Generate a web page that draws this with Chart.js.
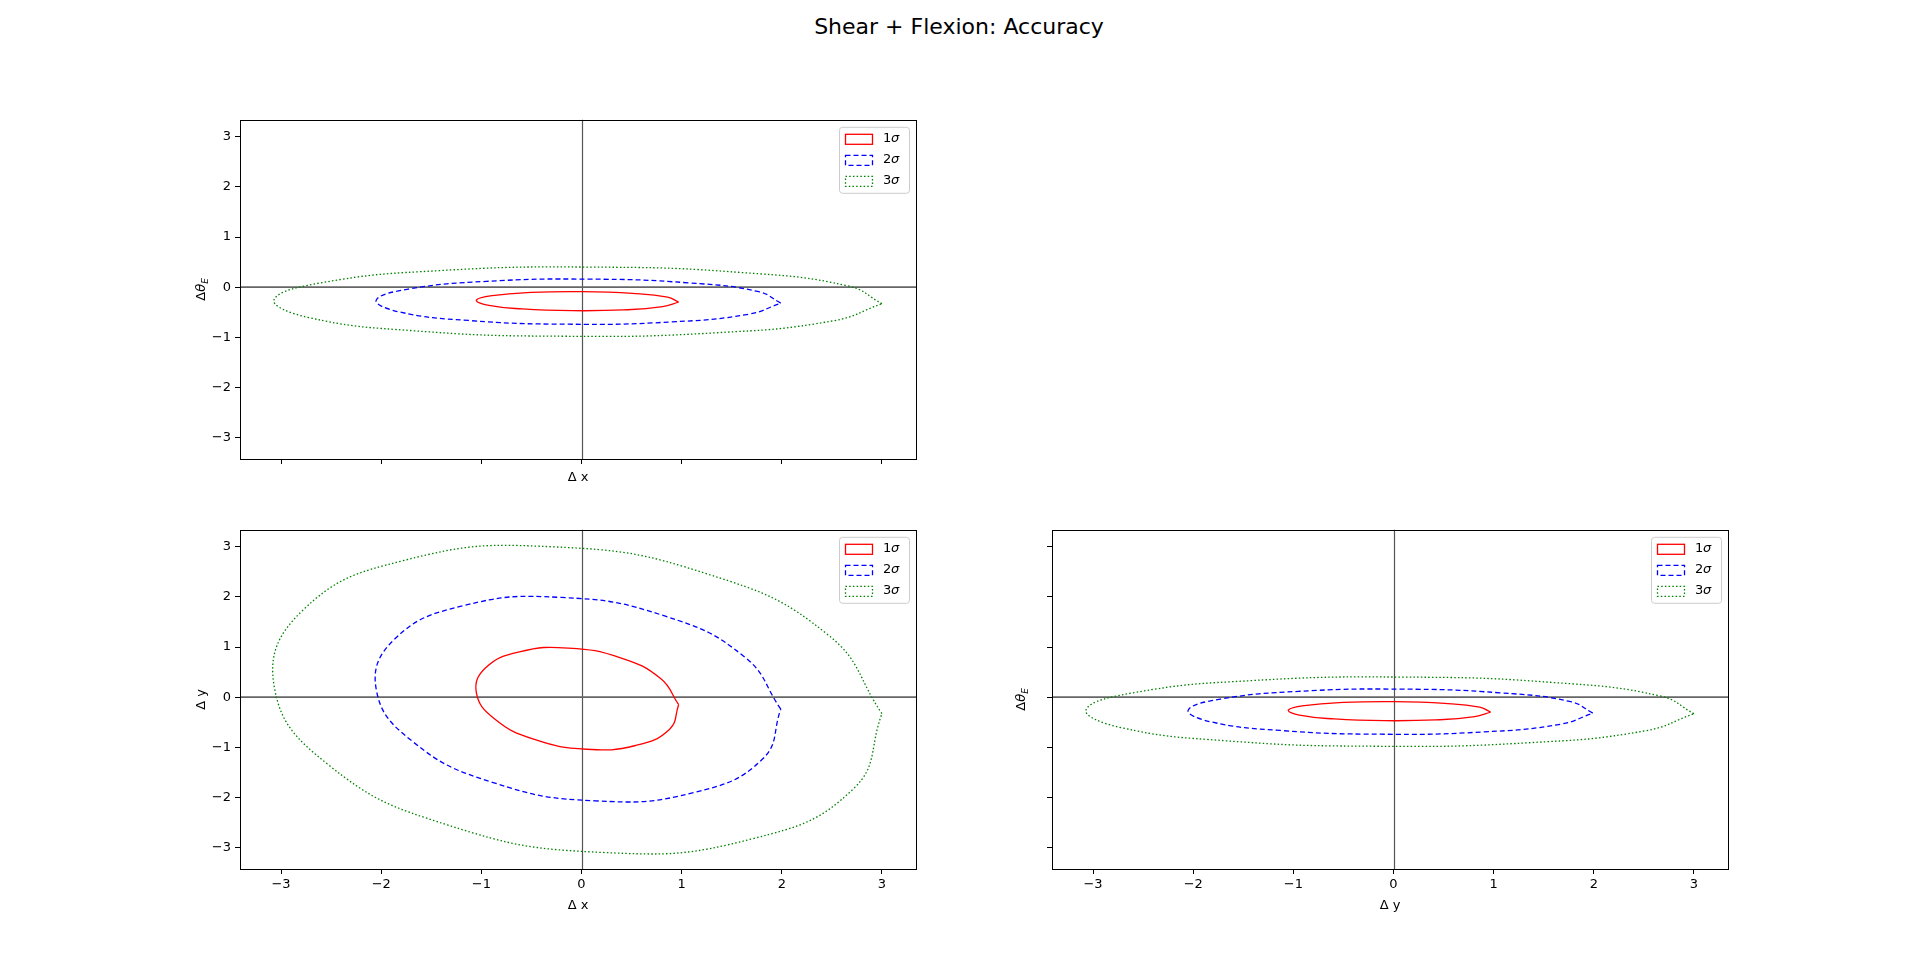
<!DOCTYPE html>
<html><head><meta charset="utf-8">
<script src="https://cdn.jsdelivr.net/npm/chart.js@4"></script>
<style>
body{margin:0;width:1920px;height:975px;background:#fff;position:relative;overflow:hidden;font-family:"DejaVu Sans",sans-serif}
#title{position:absolute;top:14px;left:0;width:1918px;text-align:center;font-size:22px}
.c{position:absolute}
</style></head><body>
<div id="title">Shear + Flexion: Accuracy</div>
<div class="c" style="left:180px;top:107.5px;width:746px;height:401px"><canvas id="c1"></canvas></div>
<div class="c" style="left:180px;top:518px;width:746px;height:401px"><canvas id="c2"></canvas></div>
<div class="c" style="left:992px;top:518px;width:746px;height:401px"><canvas id="c3"></canvas></div>
<script>
// Δx / Δy vs ΔθE contours [x, y]
const thetaSig1 = [[0.97,-0.30],[0.86,-0.20],[0.51,-0.125],[0.01,-0.09],[-0.50,-0.105],[-0.89,-0.17],[-1.05,-0.26],[-0.94,-0.36],[-0.59,-0.435],[-0.09,-0.47],[0.42,-0.455],[0.81,-0.39]];
const thetaSig2 = [[1.99,-0.32],[1.77,-0.09],[1.07,0.085],[0.07,0.16],[-0.95,0.115],[-1.73,-0.04],[-2.05,-0.26],[-1.83,-0.49],[-1.13,-0.665],[-0.13,-0.74],[0.89,-0.695],[1.67,-0.54]];
const thetaSig3 = [[3.0,-0.33],[2.67,0.02],[1.61,0.29],[0.115,0.40],[-1.42,0.33],[-2.59,0.09],[-3.07,-0.25],[-2.74,-0.60],[-1.68,-0.87],[-0.185,-0.98],[1.35,-0.91],[2.52,-0.67]];
// Δx vs Δy contours
const xySig1 = [[0.97,-0.15],[0.79,0.37],[0.39,0.785],[-0.13,0.98],[-0.62,0.905],[-0.96,0.58],[-1.05,0.09],[-0.87,-0.43],[-0.47,-0.845],[0.05,-1.04],[0.54,-0.965],[0.88,-0.64]];
const xySig2 = [[1.99,-0.24],[1.63,0.80],[0.83,1.62],[-0.20,1.99],[-1.19,1.82],[-1.87,1.15],[-2.05,0.16],[-1.69,-0.88],[-0.89,-1.70],[0.14,-2.07],[1.13,-1.90],[1.81,-1.23]];
const xySig3 = [[3.0,-0.33],[2.47,1.23],[1.27,2.45],[-0.285,3.0],[-1.77,2.73],[-2.79,1.72],[-3.07,0.23],[-2.54,-1.33],[-1.34,-2.55],[0.215,-3.10],[1.70,-2.83],[2.72,-1.82]];
const levelLabels = ['1σ','2σ','3σ'];
const tickVals = [-3,-2,-1,0,1,2,3];

const styles = [{c:'#ff0000',d:[]},{c:'#0000ff',d:[5,3]},{c:'#008000',d:[1.5,2.2]}];
function ds(pts,i){
  const d = pts.map(p=>({x:p[0],y:p[1]})); d.push(d[0]);
  return {label:levelLabels[i],data:d,showLine:true,pointRadius:0,borderColor:styles[i].c,borderWidth:1.3,borderDash:styles[i].d,tension:0.45,fill:false};
}
const FONT='"DejaVu Sans", sans-serif';
function make(id,sets,xTitle,yTitle,xLabels,yLabels){
  const deco={id:'deco',
    beforeDatasetsDraw(ch){const a=ch.chartArea,ctx=ch.ctx,xs=ch.scales.x,ys=ch.scales.y;
      ctx.save();ctx.strokeStyle='#555';
      ctx.lineWidth=1.2;ctx.beginPath();const x0=Math.round(xs.getPixelForValue(0))+0.5;ctx.moveTo(x0,a.top);ctx.lineTo(x0,a.bottom);ctx.stroke();
      ctx.lineWidth=1.8;ctx.strokeStyle='#666';ctx.beginPath();const y0=ys.getPixelForValue(0);ctx.moveTo(a.left,y0);ctx.lineTo(a.right,y0);ctx.stroke();
      ctx.restore();},
    afterDraw(ch){const a=ch.chartArea,ctx=ch.ctx;ctx.save();
      ctx.strokeStyle='#000';ctx.lineWidth=1;ctx.strokeRect(Math.round(a.left)+0.5,Math.round(a.top)+0.5,Math.round(a.right-a.left),Math.round(a.bottom-a.top));
      // legend
      const w=70,h=66,lx=a.right-w-7,ly=a.top+7;
      ctx.fillStyle='rgba(255,255,255,0.85)';ctx.strokeStyle='#ccc';ctx.lineWidth=1;
      ctx.beginPath();ctx.roundRect(lx+0.5,ly+0.5,w,h,3);ctx.fill();ctx.stroke();
      for(let i=0;i<3;i++){const yy=ly+12+i*21;
        ctx.strokeStyle=styles[i].c;ctx.setLineDash(styles[i].d);ctx.lineWidth=1.3;
        ctx.strokeRect(lx+6.5,yy-5+0.5,27,10);ctx.setLineDash([]);
        ctx.fillStyle='#000';ctx.textBaseline='middle';ctx.font='13px '+FONT;ctx.fillText(String(i+1),lx+44,yy);
        ctx.font='italic 13px '+FONT;ctx.fillText('σ',lx+52,yy);}
      // titles
      ctx.fillStyle='#000';ctx.font='13px '+FONT;ctx.textAlign='center';ctx.textBaseline='alphabetic';
      ctx.fillText(xTitle,(a.left+a.right)/2,a.bottom+(xLabels?40:22));
      ctx.translate(a.left-(yLabels?35:27),(a.top+a.bottom)/2);ctx.rotate(-Math.PI/2);
      if(yTitle==='thetaE'){ctx.textAlign='left';ctx.font='13px '+FONT;const t1='Δ';const w1=ctx.measureText(t1).width;ctx.font='italic 13px '+FONT;const w2=ctx.measureText('θ').width;ctx.font='9px '+FONT;const w3=ctx.measureText('E').width;
        let s=-(w1+w2+w3)/2;ctx.font='13px '+FONT;ctx.fillText(t1,s,0);ctx.font='italic 13px '+FONT;ctx.fillText('θ',s+w1,0);ctx.font='italic 9px '+FONT;ctx.fillText('E',s+w1+w2,3);}
      else ctx.fillText(yTitle,0,0);
      ctx.restore();}};
  const tickCb=(show)=>(v)=>show?(v<0?'−'+Math.abs(v):String(v)):'';
  new Chart(document.getElementById(id),{type:'scatter',data:{datasets:sets},
    options:{responsive:true,maintainAspectRatio:false,animation:false,
      layout:{padding:{top:10,right:10,left:0,bottom:0}},
      plugins:{legend:{display:false},tooltip:{enabled:false}},
      scales:{
        x:{min:-3.41,max:3.34,afterBuildTicks:s=>{s.ticks=tickVals.map(v=>({value:v}))},afterFit:s=>{s.height=50},
          grid:{display:true,drawOnChartArea:false,drawTicks:true,tickLength:5,tickColor:'#000'},border:{display:false},
          ticks:{callback:tickCb(xLabels),color:'#000',font:{size:13,family:FONT},padding:3,maxRotation:0}},
        y:{min:-3.43,max:3.34,afterBuildTicks:s=>{s.ticks=tickVals.map(v=>({value:v}))},afterFit:s=>{s.width=60},
          grid:{display:true,drawOnChartArea:false,drawTicks:true,tickLength:5,tickColor:'#000'},border:{display:false},
          ticks:{callback:tickCb(yLabels),color:'#000',font:{size:13,family:FONT},padding:4}}}},
    plugins:[deco]});
}
make('c1',[ds(thetaSig1,0),ds(thetaSig2,1),ds(thetaSig3,2)],'Δ x','thetaE',false,true);
make('c2',[ds(xySig1,0),ds(xySig2,1),ds(xySig3,2)],'Δ x','Δ y',true,true);
make('c3',[ds(thetaSig1,0),ds(thetaSig2,1),ds(thetaSig3,2)],'Δ y','thetaE',true,false);
</script></body></html>
